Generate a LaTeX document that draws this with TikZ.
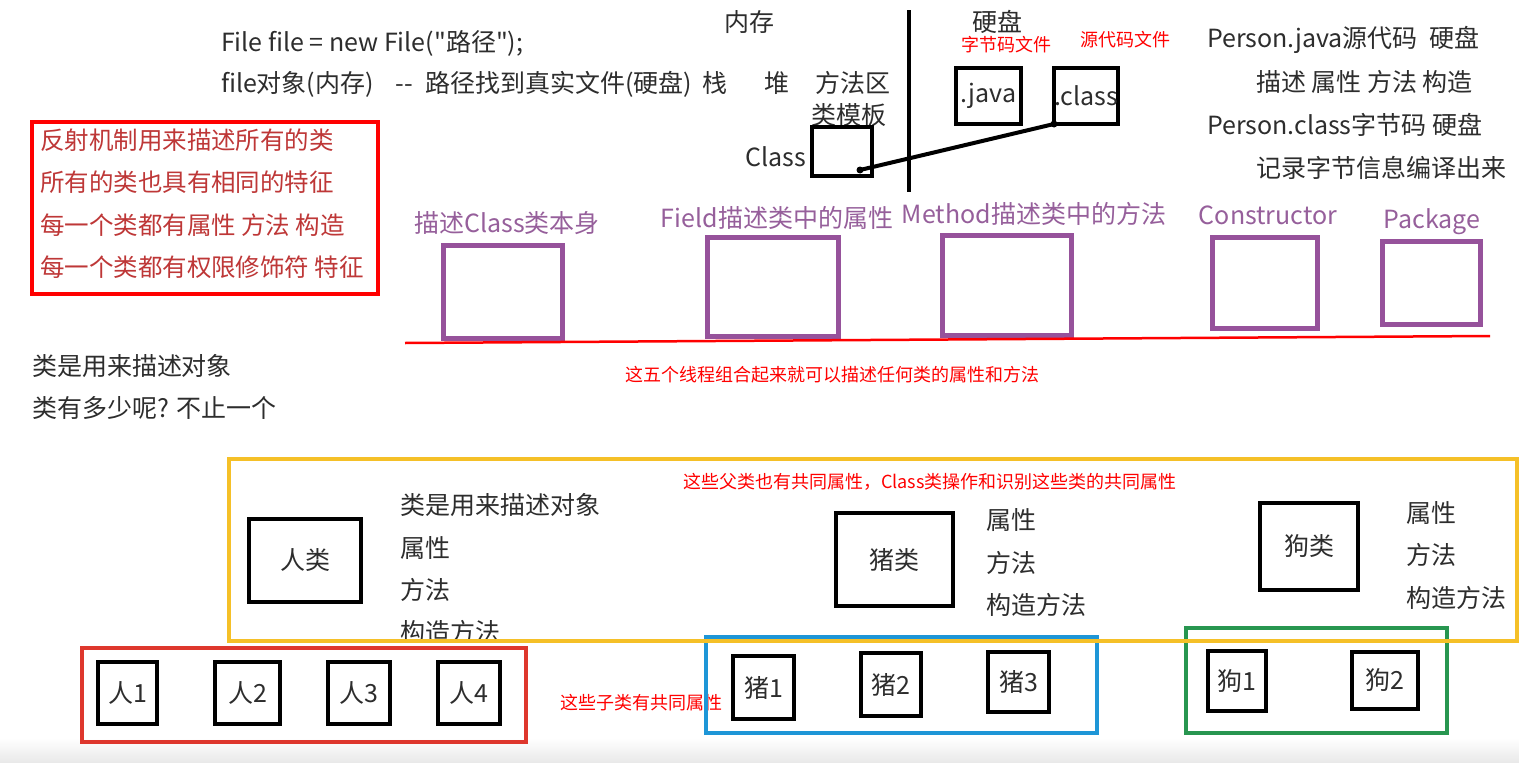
\documentclass[tikz,border=0pt]{standalone}
\usepackage{fontspec}
\newfontfamily\yh{Noto Sans CJK SC}
\definecolor{inkc}{RGB}{45,45,45}
\definecolor{notered}{RGB}{190,55,55}
\definecolor{plum}{RGB}{150,82,155}
\definecolor{plumtext}{RGB}{150,95,155}
\definecolor{gold}{RGB}{245,192,40}
\definecolor{frred}{RGB}{222,55,45}
\definecolor{frblue}{RGB}{30,150,215}
\definecolor{frgreen}{RGB}{40,150,80}
\begin{document}
\yh
\begin{tikzpicture}[x=1pt,y=-1pt,
  every node/.style={inner sep=0pt,outer sep=0pt},
  ink/.style={text=inkc},
  big/.style={font=\fontsize{25}{28}\selectfont},
  note/.style={font=\fontsize{18}{21}\selectfont,text=red},
  lft/.style={anchor=west},
  blk/.style={draw=black,line width=4pt,rectangle,ink,font=\fontsize{25}{28}\selectfont},
  pbox/.style={draw=plum,line width=5pt,rectangle,fill=white},
  plabel/.style={text=plumtext,font=\fontsize{25}{28}\selectfont},
  redtext/.style={text=notered,font=\fontsize{24.5}{28}\selectfont,anchor=west},
  frame/.style={draw=#1,line width=4pt,rectangle}
]
\useasboundingbox[fill=white] (0,0) rectangle (1519,763);
\shade[top color=white,bottom color=black!9] (0,738) rectangle (1519,763);

% --- file object and memory areas ---
\node[ink,big,lft] (fileline) at (221,43) {File file = new File("路径");};
\node[ink,big,lft] (objline) at (221,84) {file对象(内存)\hspace{22pt}--\hspace{12pt}路径找到真实文件(硬盘)};
\node[ink,big] (mem) at (749,22) {内存};
\node[ink,big] (stack) at (715,83) {栈};
\node[ink,big] (heap) at (777,83) {堆};
\node[ink,big] (metharea) at (853,83) {方法区};
\node[ink,big] (tmpl) at (849,115) {类模板};
\node[ink,big,anchor=east] (classlbl) at (806,157) {Class};
\node[draw=black,line width=4pt,minimum width=60,minimum height=49] (classbox) at (842,151.5) {};
\coordinate (divtop) at (909,10);
\coordinate (divbot) at (909,192);
\draw[line width=4pt] (divtop) -- (divbot);

% --- disk side ---
\node[ink,big] (disk) at (997,22) {硬盘};
\node[note] (bytefile) at (1006,45) {字节码文件};
\node[note] (srcfile) at (1125,40) {源代码文件};
\node[blk,minimum width=65,minimum height=56] (javabox) at (988.5,96) {.java};
\node[blk,minimum width=64,minimum height=56] (clsbox) at (1086,96) {.class};
\coordinate (cdot) at (860,170);
\draw[line width=4pt] (cdot) -- (clsbox.south west);
\fill (cdot) circle (3.5);
\fill (clsbox.south west) circle (3.5);

\node[ink,big,lft] (p1) at (1207,40) {Person.java源代码\ \ 硬盘};
\node[ink,big,lft] (p2) at (1256,82) {描述 属性 方法 构造};
\node[ink,big,lft] (p3) at (1207,125) {Person.class字节码 硬盘};
\node[ink,big,lft] (p4) at (1256,168) {记录字节信息编译出来};

% --- reflection notes ---
\node[frame=red,minimum width=346,minimum height=172] (reflbox) at (205,208) {};
\node[redtext] (r1) at (40,140) {反射机制用来描述所有的类};
\node[redtext] (r2) at (40,182) {所有的类也具有相同的特征};
\node[redtext] (r3) at (40,225) {每一个类都有属性 方法 构造};
\node[redtext] (r4) at (40,267) {每一个类都有权限修饰符 特征};

\node[ink,big,lft] (q1) at (32,366) {类是用来描述对象};
\node[ink,big,lft] (q2) at (32,408) {类有多少呢? 不止一个};

% --- reflection classes ---
\node[pbox,minimum width=119,minimum height=93] (cls) at (502.5,291.5) {};
\node[pbox,minimum width=131,minimum height=99] (fld) at (772.5,286.5) {};
\node[pbox,minimum width=129,minimum height=100] (mth) at (1006.5,285) {};
\node[pbox,minimum width=105,minimum height=91] (ctor) at (1264.5,282.5) {};
\node[pbox,minimum width=98,minimum height=83] (pkg) at (1431,282.5) {};
\node[plabel] (clsl) at (507,223) {描述Class类本身};
\node[plabel] (fldl) at (777,218) {Field描述类中的属性};
\node[plabel] (mthl) at (1034,214) {Method描述类中的方法};
\node[plabel] (ctorl) at (1268,215) {Constructor};
\node[plabel] (pkgl) at (1432,222) {Package};
\coordinate (ulA) at (405,343);
\coordinate (ulB) at (1490,336);
\draw[red,line width=2.5pt] (ulA) -- (ulB);
\node[note,lft] (five) at (625,375) {这五个线程组合起来就可以描述任何类的属性和方法};

% --- parent classes ---
\node[blk,minimum width=112,minimum height=83] (ren) at (305,560.5) {人类};
\node[ink,big,lft] (ra) at (400,505) {类是用来描述对象};
\node[ink,big,lft] (rb) at (400,548) {属性};
\node[ink,big,lft] (rc) at (400,590) {方法};
\node[ink,big,lft] (rd) at (400,632) {构造方法};
\node[blk,minimum width=117,minimum height=93] (zhu) at (894.5,559.5) {猪类};
\node[ink,big,lft] (za) at (986,520) {属性};
\node[ink,big,lft] (zb) at (986,563) {方法};
\node[ink,big,lft] (zc) at (986,605) {构造方法};
\node[blk,minimum width=98,minimum height=87] (gou) at (1309,546.5) {狗类};
\node[ink,big,lft] (ga) at (1406,513) {属性};
\node[ink,big,lft] (gb) at (1406,555) {方法};
\node[ink,big,lft] (gc) at (1406,598) {构造方法};
\node[note,lft] (parentnote) at (683,482) {这些父类也有共同属性，Class类操作和识别这些类的共同属性};

% --- child classes ---
\node[frame=frred,minimum width=444,minimum height=94] (renset) at (304,695) {};
\node[blk,minimum width=59,minimum height=62] (r1b) at (127.5,693) {人1};
\node[blk,minimum width=65,minimum height=62] (r2b) at (247.5,693) {人2};
\node[blk,minimum width=62,minimum height=62] (r3b) at (359,693) {人3};
\node[blk,minimum width=62,minimum height=62] (r4b) at (469,693) {人4};
\node[note,lft] (childnote) at (560,703) {这些子类有共同属性};

\node[frame=frblue,minimum width=391,minimum height=96] (zhuset) at (901.5,685) {};
\node[blk,minimum width=61,minimum height=63] (z1) at (763.5,687.5) {猪1};
\node[blk,minimum width=60,minimum height=63] (z2) at (891,684.5) {猪2};
\node[blk,minimum width=61,minimum height=60] (z3) at (1018.5,682) {猪3};

\node[frame=frgreen,minimum width=261,minimum height=105] (gouset) at (1316.5,680.5) {};
\node[blk,minimum width=58,minimum height=60] (g1) at (1237,681) {狗1};
\node[blk,minimum width=66,minimum height=57] (g2) at (1385,680.5) {狗2};

% gold group frame drawn last so it crosses the lower frames
\node[frame=gold,minimum width=1288,minimum height=182] (parents) at (873,550) {};
\end{tikzpicture}
\end{document}
